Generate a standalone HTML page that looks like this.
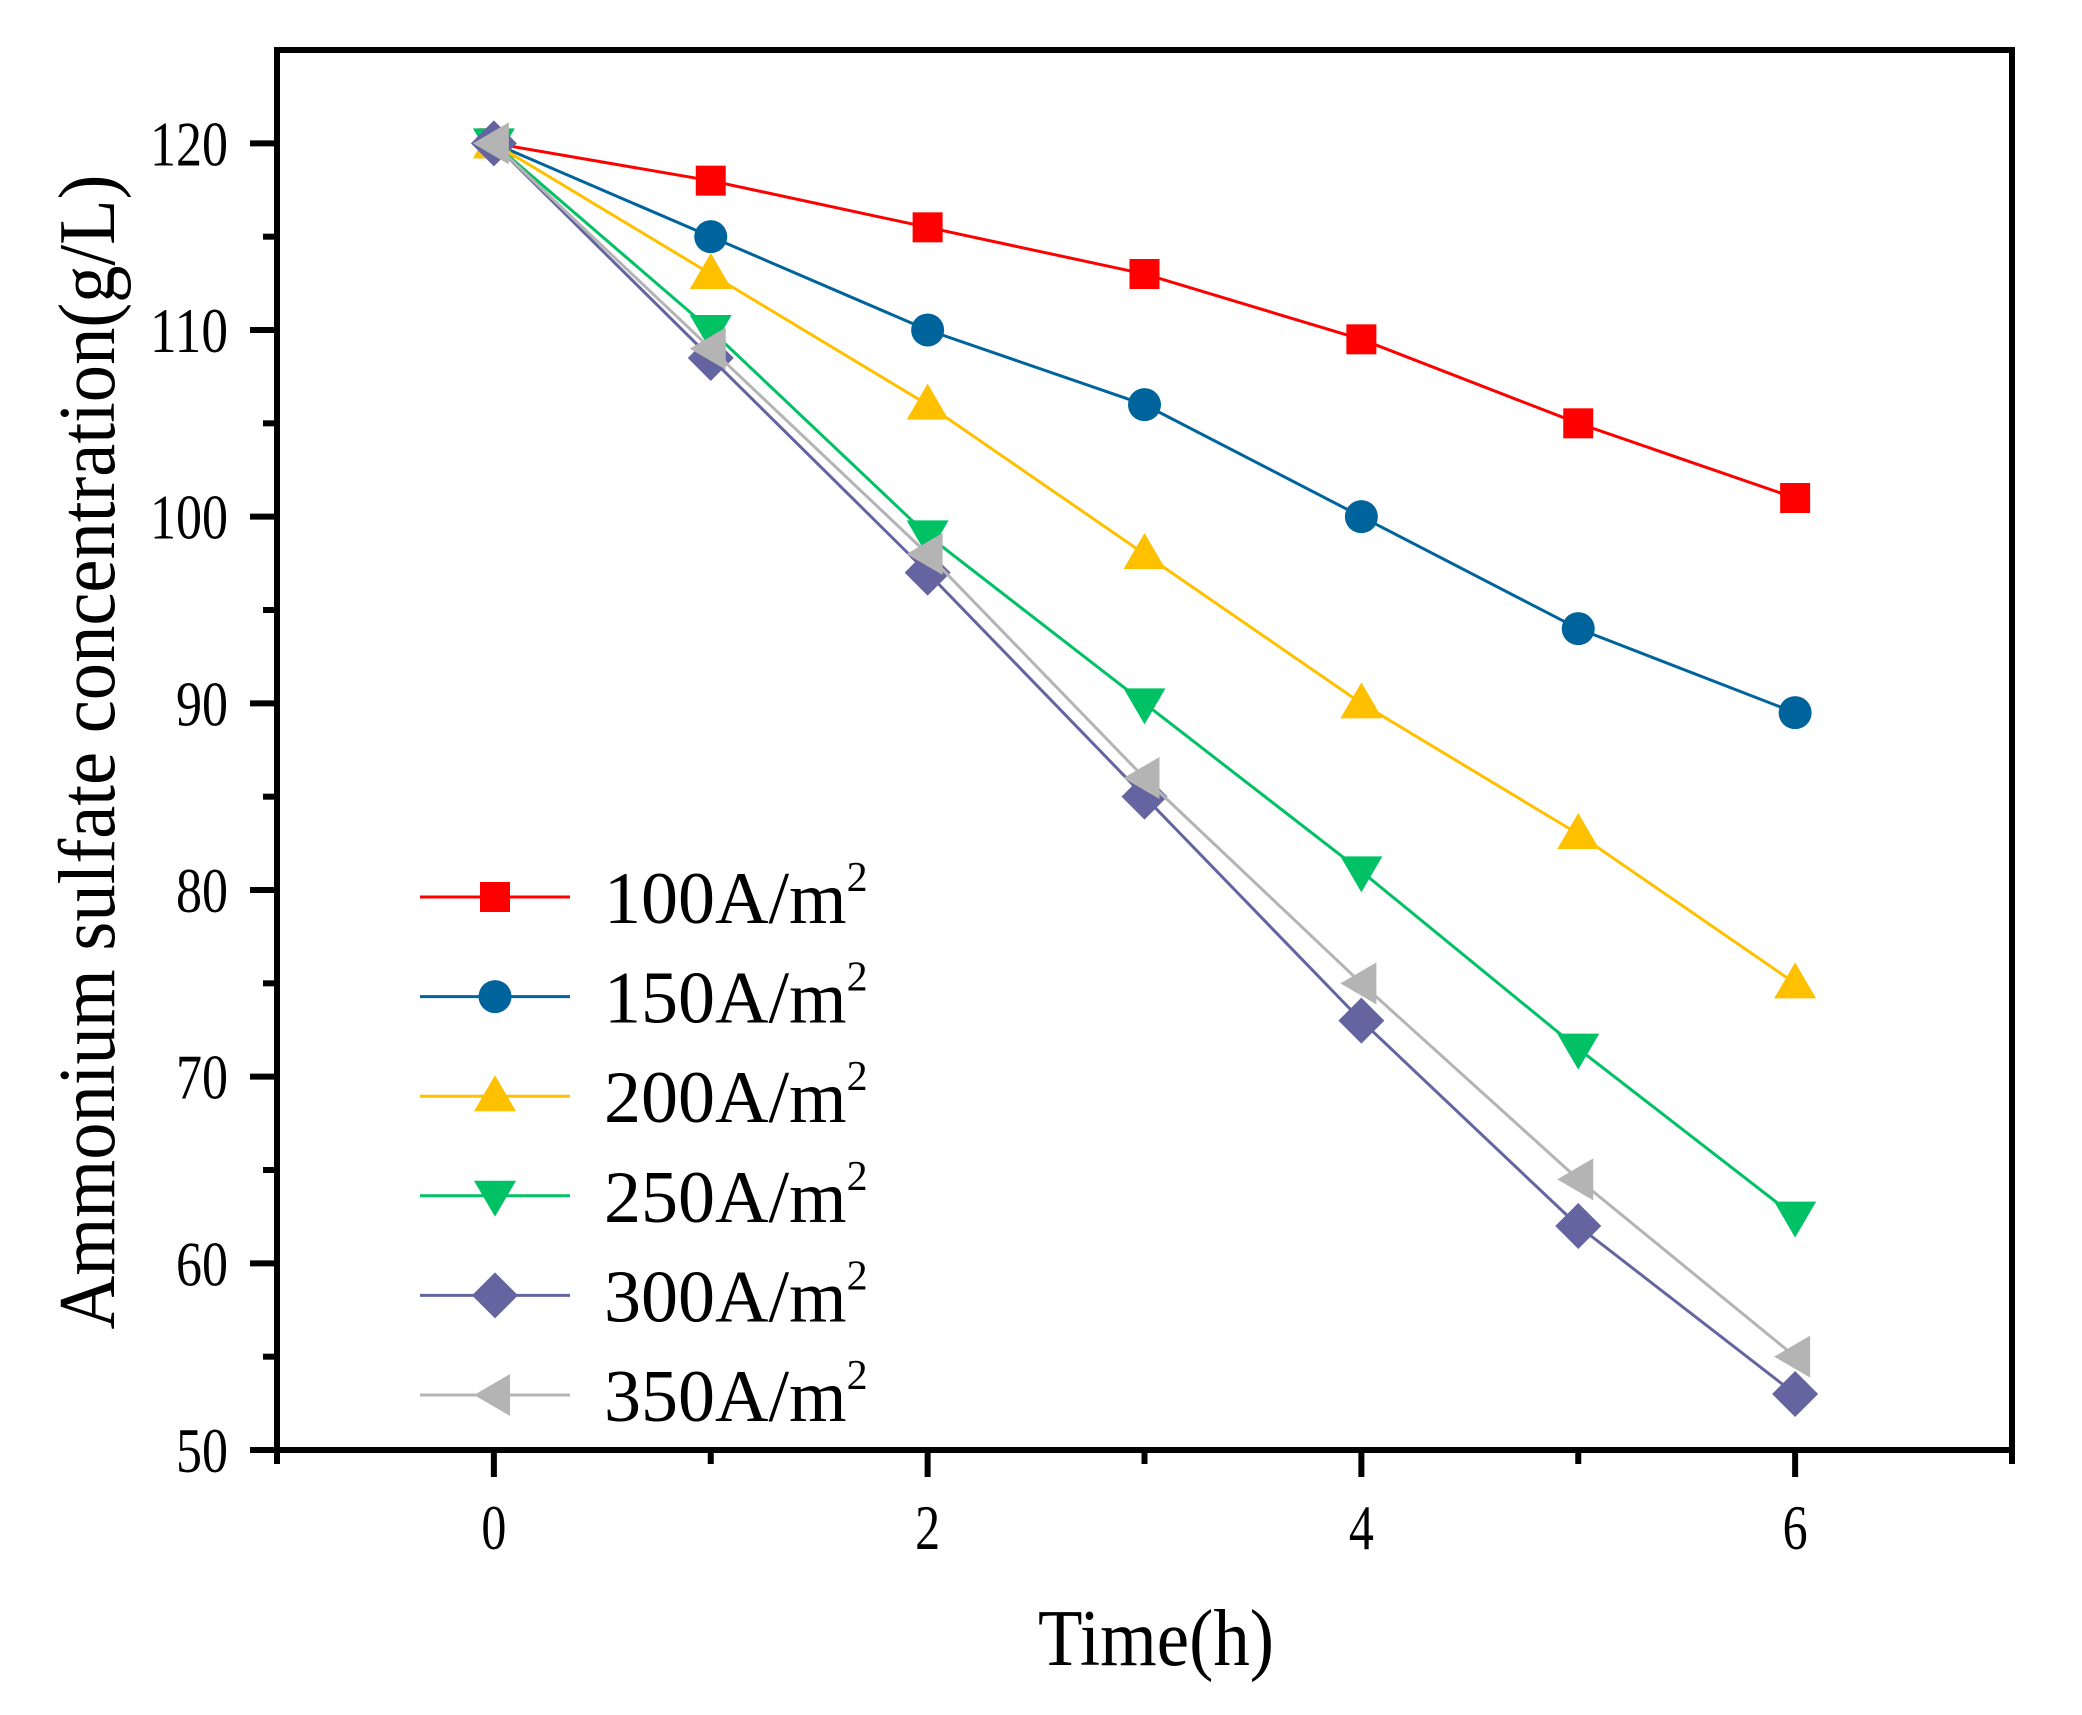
<!DOCTYPE html>
<html><head><meta charset="utf-8"><style>
html,body{margin:0;padding:0;background:#fff;}
svg{display:block;font-family:"Liberation Serif",serif;}
</style></head><body>
<svg id="chart" width="2082" height="1715" viewBox="0 0 2082 1715" xmlns="http://www.w3.org/2000/svg">
<rect width="2082" height="1715" fill="#fff"/>
<g id="axes"></g>
<g id="series"></g>
<g id="legend"></g>
<text x="1156" y="1665" font-size="80" text-anchor="middle" textLength="236" lengthAdjust="spacingAndGlyphs">Time(h)</text>
<text transform="translate(114,752) rotate(-90)" font-size="80" text-anchor="middle" textLength="1155" lengthAdjust="spacingAndGlyphs">Ammonium sulfate concentration(g/L)</text>
</svg>
<script>
const times = [0,1,2,3,4,5,6];
const seriesNames = ["100A/m","150A/m","200A/m","250A/m","300A/m","350A/m"];
const s100 = [120,118,115.5,113,109.5,105,101];
const s150 = [120,115,110,106,100,94,89.5];
const s200 = [120,113,106,98,90,83,75];
const s250 = [120,110,99,90,81,71.5,62.5];
const s300 = [120,108.5,97,85,73,62,53];
const s350 = [120,109,98,86,75,64.5,55];
const xTicks = [0,2,4,6];
const xMinor = [-1,1,3,5,7];
const yTicks = [50,60,70,80,90,100,110,120];
const yMinor = [55,65,75,85,95,105,115];

const NS="http://www.w3.org/2000/svg";
const X0=-1,X1=7,Y0=50,Y1=125;
const L=277,R=2012,T=50,B=1450;
function xs(v){return L+(v-X0)/(X1-X0)*(R-L);}
function ys(v){return B-(v-Y0)/(Y1-Y0)*(B-T);}
function mk(tag,attrs,parent){const e=document.createElementNS(NS,tag);for(const k in attrs)e.setAttribute(k,attrs[k]);parent.appendChild(e);return e;}
const axes=document.getElementById('axes');
let fr=mk('rect',{x:L,y:T,width:R-L,height:B-T,fill:'none',stroke:'#000','stroke-width':6},axes);


xTicks.forEach(v=>{
  let t=mk('line',{x1:xs(v),x2:xs(v),y1:B,y2:B+27,stroke:'#000','stroke-width':6},axes);
  
  
  let l=mk('text',{x:xs(v),y:1549,'font-size':64,'text-anchor':'middle',textLength:25,lengthAdjust:'spacingAndGlyphs'},axes);
  l.textContent=v;
  
  
});
xMinor.forEach(v=>{
  let t=mk('line',{x1:xs(v),x2:xs(v),y1:B,y2:B+14,stroke:'#000','stroke-width':6},axes);
  
  
});
yTicks.forEach(v=>{
  let t=mk('line',{x1:L,x2:L-27,y1:ys(v),y2:ys(v),stroke:'#000','stroke-width':6},axes);
  
  
  let s=String(v);
  let l=mk('text',{x:228,y:ys(v)+22,'font-size':64,'text-anchor':'end',textLength:s.length*26,lengthAdjust:'spacingAndGlyphs'},axes);
  l.textContent=s;
  
  
});
yMinor.forEach(v=>{
  let t=mk('line',{x1:L,x2:L-14,y1:ys(v),y2:ys(v),stroke:'#000','stroke-width':6},axes);
  
  
});
const colors=["#ff0000","#00649c","#ffc000","#00c265","#6465a0","#b4b4b4"];
const shapes=["square","circle","up","down","diamond","left"];
const data=[s100,s150,s200,s250,s300,s350];
function marker(shape,cx,cy,c,parent){
  let e;
  if(shape==="square")e=mk('rect',{x:cx-15,y:cy-15,width:30,height:30,fill:c},parent);
  else if(shape==="circle")e=mk('circle',{cx:cx,cy:cy,r:16.5,fill:c},parent);
  else {
    let p;
    if(shape==="up")p=[[cx,cy-21],[cx+21,cy+15],[cx-21,cy+15]];
    else if(shape==="down")p=[[cx,cy+21],[cx+21,cy-15],[cx-21,cy-15]];
    else if(shape==="diamond")p=[[cx,cy-23],[cx+23,cy],[cx,cy+23],[cx-23,cy]];
    else p=[[cx-21,cy],[cx+15,cy-21],[cx+15,cy+21]];
    e=mk('polygon',{points:p.map(q=>q.join(',')).join(' '),fill:c},parent);
  }
  return e;
}
const sg=document.getElementById('series');
const lg=document.getElementById('legend');
data.forEach((d,i)=>{
  const g=mk('g',{},sg);
  
  
  let pl=mk('polyline',{points:d.map((v,j)=>xs(times[j])+','+ys(v)).join(' '),fill:'none',stroke:colors[i],'stroke-width':3},g);
  
  
  d.forEach((v,j)=>{
    let m=marker(shapes[i],xs(times[j]),ys(v),colors[i],g);
    
    
  });
  const ly=897+i*99.6;
  const eg=mk('g',{},lg);
  
  
  mk('line',{x1:420,x2:570,y1:ly,y2:ly,stroke:colors[i],'stroke-width':3},eg);
  marker(shapes[i],495,ly,colors[i],eg);
  let t=mk('text',{x:604,y:ly+26,'font-size':74},eg);
  t.textContent=seriesNames[i];
  let sup=mk('tspan',{'font-size':42,dy:-32},t);
  sup.textContent='2';
});
</script>
</body></html>
